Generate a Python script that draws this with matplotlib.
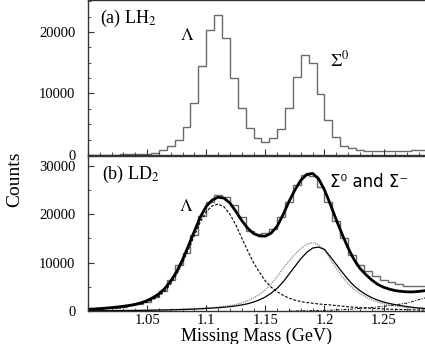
import numpy as np
import matplotlib
matplotlib.use('Agg')
import matplotlib.pyplot as plt
from matplotlib.ticker import MultipleLocator

plt.rcParams['font.family'] = ['Liberation Serif', 'DejaVu Serif']
plt.rcParams['mathtext.fontset'] = 'stix'

# histogram bins: 1/150 GeV wide, starting at 1.0 GeV
bin_width = 1.0 / 150
counts_lh2 = [50, 50, 50, 50, 120, 120, 120, 120, 370, 800,
              1500, 2450, 4600, 8500, 14400, 20300, 22750, 19100, 12600, 7600,
              4450, 2700, 2170, 2700, 4300, 7700, 12750, 16250, 14900, 9900,
              5700, 3000, 1500, 1100, 870, 700, 650, 650, 650, 650,
              700, 750, 800]
counts_ld2 = [350, 450, 550, 700, 900, 1150, 1450, 1900, 2900, 4100,
              6300, 9400, 12000, 15600, 19700, 22500, 23900, 23600, 21800, 19400,
              16600, 16000, 16200, 17000, 19500, 22600, 26000, 28000, 27800, 25500,
              22500, 18500, 15000, 11500, 9500, 8200, 7200, 6400, 5900, 5500,
              5200, 5100, 5100]

# fit curves, read on a 5 MeV grid from 1.000 to 1.285 GeV
fit_mass = 1.0 + 0.005 * np.arange(58)
fit_total = [350, 420, 500, 590, 700, 830, 980, 1150, 1380, 1700,
             2150, 2750, 3550, 4650, 6200, 8100, 10600, 13500, 16500, 19400,
             21600, 22900, 23500, 23300, 22300, 20600, 18700, 17100, 16000, 15500,
             15450, 16100, 17500, 19900, 22600, 25000, 27000, 28200, 28400, 27300,
             25000, 22000, 18800, 15800, 13000, 10600, 8800, 7500, 6400, 5500,
             4900, 4500, 4200, 4050, 3950, 3950, 4050, 4200]
fit_lambda = [300, 360, 420, 500, 590, 700, 830, 1000, 1200, 1480,
              1850, 2350, 3050, 4100, 5600, 7600, 10000, 12700, 15600, 18400,
              20500, 21700, 22100, 21500, 20000, 17800, 15100, 12500, 10000, 8000,
              6200, 4900, 4000, 3250, 2650, 2250, 1950, 1750, 1600, 1450,
              1350, 1250, 1120, 1000, 880, 780, 700, 620, 550, 490,
              430, 380, 340, 300, 270, 240, 210, 190]
fit_sigma0 = [60, 65, 70, 80, 90, 100, 110, 125, 140, 155,
              175, 195, 220, 250, 280, 320, 360, 410, 470, 540,
              620, 710, 820, 960, 1130, 1350, 1650, 2100, 2700, 3400,
              4400, 5600, 7100, 8800, 10300, 11700, 12900, 13800, 14100, 13700,
              12700, 10600, 8800, 7100, 5600, 4500, 3600, 2900, 2300, 1850,
              1500, 1250, 1050, 870, 720, 600, 500, 420]
fit_sigmam = [50, 55, 60, 70, 75, 85, 95, 105, 120, 135,
              150, 170, 190, 215, 240, 270, 310, 350, 400, 460,
              530, 600, 680, 780, 900, 1050, 1250, 1500, 1850, 2300,
              2900, 3700, 4700, 6000, 7600, 9200, 10800, 12100, 13000, 13200,
              12700, 11200, 9600, 8000, 6500, 5200, 4200, 3400, 2750, 2250,
              1850, 1550, 1300, 1100, 900, 750, 620, 520]
bg_mass = [1.17, 1.18, 1.19, 1.20, 1.21, 1.22, 1.23, 1.24, 1.25, 1.26, 1.27, 1.28, 1.285]
bg_counts = [0, 40, 80, 130, 220, 350, 520, 730, 980, 1280, 1650, 2350, 2700]

hist_color = '#6a6a6a'
edge_color = '#333333'

fig = plt.figure(figsize=(4.25, 3.44), dpi=100)
ax_a = fig.add_axes([0.207, 0.5494, 0.793, 0.4506])
ax_b = fig.add_axes([0.207, 0.0959, 0.793, 0.4506])

edges_a = 1.0 + bin_width * np.arange(len(counts_lh2) + 1)
edges_b = 1.0 + bin_width * np.arange(len(counts_ld2) + 1)
ax_a.stairs(counts_lh2, edges_a, baseline=None, color=hist_color, lw=1.0)
ax_b.stairs(counts_ld2, edges_b, baseline=None, color=hist_color, lw=1.0)

ax_b.plot(fit_mass, fit_lambda, color='black', lw=0.8, ls=(0, (2.5, 1.5)))
ax_b.plot(fit_mass, fit_sigma0, color='#888888', lw=0.9, ls=(0, (1, 0.8)))
ax_b.plot(fit_mass, fit_sigmam, color='black', lw=0.9)
ax_b.plot(bg_mass, bg_counts, color='black', lw=0.7, ls=(0, (3, 1.5, 1, 1.5)))
ax_b.plot(fit_mass, fit_total, color='black', lw=2.0)

for ax in (ax_a, ax_b):
    ax.set_xlim(1.0, 1.285)
    ax.xaxis.set_major_locator(MultipleLocator(0.05))
    ax.xaxis.set_minor_locator(MultipleLocator(0.01))
    ax.yaxis.set_major_locator(MultipleLocator(10000))
    ax.tick_params(which='both', direction='in', labelsize=10.5, colors=edge_color,
                   labelcolor='black')
    ax.tick_params(which='major', length=4, width=0.8)
    ax.tick_params(which='minor', length=2.5, width=0.6)
    ax.tick_params(axis='y', pad=9)
    ax.spines['right'].set_visible(False)
    for s in ('left', 'top', 'bottom'):
        ax.spines[s].set_color(edge_color)
        ax.spines[s].set_linewidth(1.0)

ax_a.set_ylim(0, 25200)
ax_a.yaxis.set_minor_locator(MultipleLocator(2500))
ax_a.tick_params(axis='x', labelbottom=False)

ax_b.set_ylim(0, 32000)
ax_b.yaxis.set_minor_locator(MultipleLocator(5000))
ax_b.xaxis.set_major_formatter(
    plt.FuncFormatter(lambda v, p: '' if v < 1.01 else ('%.2f' % v).rstrip('0')))
ax_b.tick_params(axis='x', pad=2)
ax_b.set_xlabel('Missing Mass (GeV)', fontsize=13, labelpad=0.5)

fig.text(0.035, 0.48, 'Counts', rotation=90, fontsize=14, ha='center', va='center')

ax_a.text(0.036, 0.884, '(a) LH$_2$', transform=ax_a.transAxes, fontsize=13, va='center')
ax_a.text(0.294, 0.768, r'$\Lambda$', transform=ax_a.transAxes, fontsize=13, ha='center', va='center')
ax_a.text(0.718, 0.613, r'$\Sigma^0$', transform=ax_a.transAxes, fontsize=13, va='center')

ax_b.text(0.042, 0.884, '(b) LD$_2$', transform=ax_b.transAxes, fontsize=13, va='center')
ax_b.text(0.291, 0.677, r'$\Lambda$', transform=ax_b.transAxes, fontsize=13, ha='center', va='center')
ax_b.text(0.718, 0.832, 'Σ⁰ and Σ⁻', transform=ax_b.transAxes, fontsize=12, va='center',
          family=['DejaVu Sans'])

fig.savefig('out.png', dpi=100)
